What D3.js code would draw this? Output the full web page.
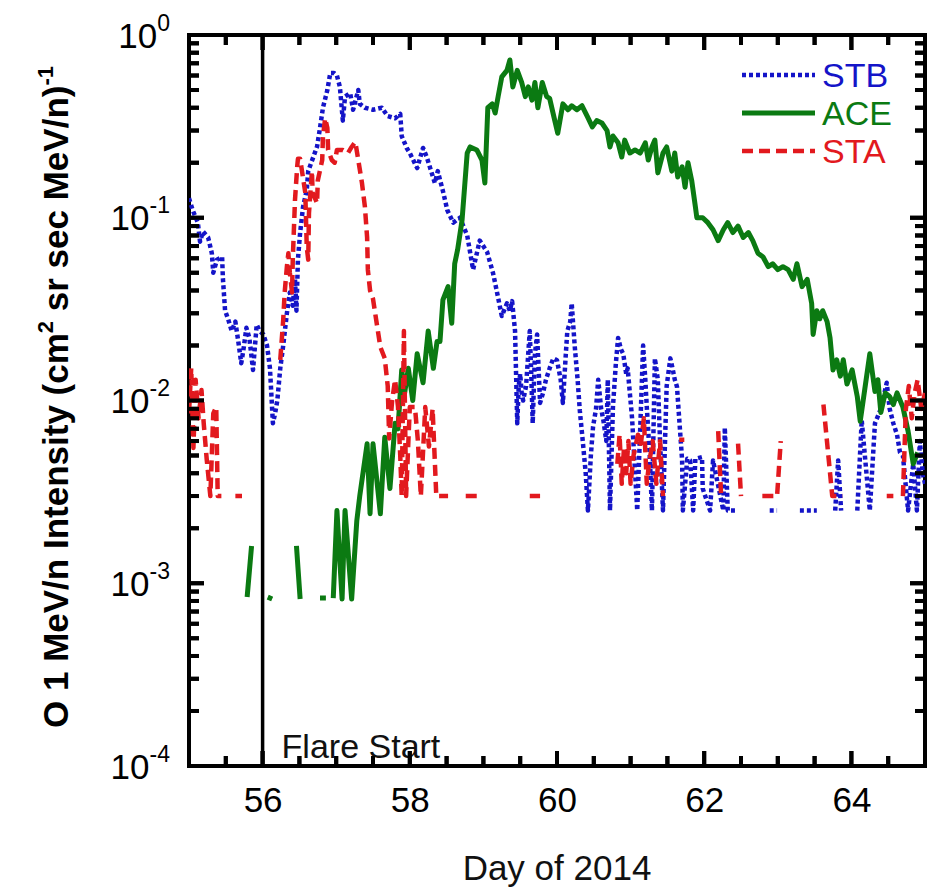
<!DOCTYPE html>
<html lang="en">
<head>
<meta charset="utf-8">
<title>O 1 MeV/n Intensity, Day 55-65 of 2014</title>
<script src="https://d3js.org/d3.v7.min.js"></script>
<style>
  html, body { margin: 0; padding: 0; overflow: hidden; background: #fff; font-family: 'Liberation Sans', Arial, sans-serif; }
  svg { display: block; }
</style>
</head>
<body>
<div id="chart"></div>
<script>
// [day of 2014, intensity]; null = no data (gap)
var stbData = [[55.00,0.128],[55.05,0.110],[55.12,0.094],[55.15,0.074],[55.19,0.084],[55.26,0.078],[55.31,0.064],[55.33,0.050],[55.38,0.059],[55.45,0.061],[55.46,0.047],[55.49,0.031],[55.53,0.028],[55.58,0.024],[55.63,0.027],[55.67,0.021],[55.71,0.016],[55.74,0.019],[55.78,0.025],[55.82,0.022],[55.87,0.0147],[55.92,0.026],[55.96,0.024],[56.01,0.023],[56.06,0.020],[56.10,0.015],[56.14,0.0075],[56.17,0.0085],[56.20,0.010],[56.24,0.015],[56.28,0.020],[56.33,0.030],[56.37,0.039],[56.41,0.033],[56.44,0.046],[56.46,0.031],[56.48,0.059],[56.51,0.083],[56.55,0.115],[56.60,0.142],[56.62,0.18],[56.68,0.21],[56.74,0.245],[56.78,0.31],[56.82,0.40],[56.88,0.50],[56.92,0.62],[56.97,0.62],[57.01,0.60],[57.05,0.52],[57.09,0.34],[57.12,0.46],[57.19,0.48],[57.23,0.39],[57.30,0.50],[57.32,0.42],[57.39,0.40],[57.50,0.39],[57.62,0.40],[57.70,0.36],[57.80,0.35],[57.87,0.37],[57.89,0.28],[57.96,0.24],[58.00,0.226],[58.10,0.187],[58.18,0.241],[58.23,0.215],[58.34,0.155],[58.38,0.18],[58.45,0.14],[58.51,0.11],[58.59,0.094],[58.68,0.10],[58.78,0.08],[58.86,0.052],[58.95,0.075],[59.05,0.065],[59.13,0.05],[59.18,0.040],[59.25,0.029],
  [59.32,0.034],[59.36,0.031],[59.39,0.035],[59.43,0.024],[59.46,0.0075],[59.48,0.012],[59.50,0.014],[59.52,0.011],[59.54,0.010],[59.58,0.012],[59.63,0.024],[59.65,0.014],[59.67,0.0075],[59.70,0.018],[59.73,0.023],[59.77,0.0097],[59.81,0.011],[59.85,0.013],[59.90,0.015],[59.95,0.017],[60.00,0.0166],[60.05,0.013],[60.08,0.0097],[60.12,0.018],[60.14,0.024],[60.18,0.027],[60.20,0.034],[60.22,0.026],[60.24,0.020],[60.28,0.013],[60.31,0.0088],[60.35,0.006],[60.39,0.004],[60.42,0.0025],[60.46,0.005],[60.49,0.0072],[60.53,0.009],[60.56,0.013],[60.60,0.009],[60.63,0.0078],[60.67,0.006],[60.69,0.013],[60.72,0.0025],[60.76,0.0092],[60.80,0.016],[60.83,0.022],[60.87,0.019],[60.90,0.018],[60.94,0.014],[60.96,0.015],[61.02,0.008],[61.09,0.0025],[61.13,0.0069],[61.17,0.020],[61.20,0.013],[61.22,0.0092],[61.26,0.005],[61.29,0.0025],[61.33,0.017],[61.37,0.013],[61.40,0.006],[61.44,0.0025],[61.49,0.012],[61.54,0.017],[61.57,0.015],[61.60,0.013],[61.63,0.0119],[61.70,0.0047],[61.71,0.0025],[61.77,0.0048],[61.81,0.0047],[61.85,0.0025],[61.88,0.0048],[61.97,0.0049],[61.98,0.0033],[62.08,0.0025],[62.12,0.0047],[62.26,0.0025],[62.28,0.0071],[62.32,0.0025],[62.45,0.0025],[62.60,null],
  [62.89,0.0025],[62.99,0.0025],[63.10,null],[63.30,0.0025],[63.53,0.0025],[63.65,null],[63.78,0.0025],[63.82,0.0047],[63.86,0.0025],[63.95,null],[64.08,0.0025],[64.14,0.0078],[64.25,0.0025],[64.32,0.0075],[64.40,0.009],[64.48,0.0125],[64.52,0.009],[64.57,0.0075],[64.62,0.0065],[64.66,0.0052],[64.70,0.005],[64.77,0.0025],[64.84,0.0045],[64.89,0.0025],[64.93,0.006],[64.97,0.004],[65.00,0.0035]];

var aceData = [[55.79,0.00084],[55.85,0.0016],[55.86,null],[56.07,0.00084],[56.13,0.00082],[56.14,null],[56.46,0.0016],[56.51,0.00082],[56.52,null],[56.78,0.00083],[56.86,0.00083],[56.90,null],
  [56.96,0.00083],[57.01,0.0025],[57.08,0.00082],[57.12,0.0025],[57.21,0.00082],[57.28,0.0022],[57.32,0.0030],[57.42,0.0058],[57.46,0.0024],[57.50,0.0058],[57.60,0.0024],[57.66,0.0063],[57.73,0.0033],[57.80,0.0075],[57.84,0.007],[57.89,0.0147],[57.93,0.011],[57.98,0.015],[58.04,0.010],[58.10,0.018],[58.18,0.0125],[58.25,0.024],[58.32,0.015],[58.37,0.021],[58.41,0.021],[58.45,0.0355],[58.52,0.042],[58.57,0.0265],[58.61,0.056],[58.65,0.067],[58.71,0.097],[58.78,0.226],[58.82,0.244],[58.91,0.235],[58.98,0.207],[59.02,0.155],[59.06,0.40],[59.12,0.42],[59.16,0.374],[59.20,0.46],[59.25,0.59],[59.32,0.64],[59.36,0.73],[59.40,0.52],[59.46,0.64],[59.52,0.55],[59.57,0.46],[59.61,0.52],[59.66,0.44],[59.70,0.55],[59.74,0.40],[59.80,0.55],[59.86,0.46],[59.90,0.45],[59.97,0.34],[60.01,0.29],[60.08,0.42],[60.15,0.39],[60.20,0.41],[60.27,0.39],[60.34,0.41],[60.41,0.36],[60.48,0.314],[60.54,0.34],[60.61,0.33],[60.68,0.30],[60.72,0.244],[60.76,0.28],[60.83,0.257],[60.88,0.215],[60.92,0.266],[60.99,0.226],[61.06,0.235],[61.13,0.226],[61.20,0.257],[61.24,0.207],[61.29,0.244],[61.33,0.266],[61.37,0.176],[61.44,0.226],[61.49,0.244],[61.56,0.18],[61.60,0.226],[61.64,0.167],[61.70,0.19],[61.74,0.147],[61.78,0.20],[61.83,0.16],[61.88,0.115],[61.90,0.10],[61.98,0.10],[62.05,0.094],[62.12,0.086],[62.19,0.075],[62.26,0.086],[62.32,0.094],[62.39,0.083],[62.46,0.09],[62.53,0.078],[62.60,0.083],[62.66,0.075],[62.73,0.064],[62.80,0.061],[62.87,0.054],[62.93,0.056],[63.00,0.052],[63.07,0.054],[63.14,0.052],[63.21,0.046],[63.26,0.056],[63.33,0.042],[63.40,0.046],[63.46,0.034],[63.48,0.023],[63.53,0.031],[63.57,0.028],[63.61,0.031],[63.67,0.027],[63.71,0.022],[63.75,0.0147],[63.80,0.0167],[63.85,0.0136],[63.89,0.0167],[63.94,0.0123],[64.01,0.0147],[64.08,0.0105],[64.12,0.0077],[64.18,0.0114],[64.25,0.018],[64.32,0.0112],[64.36,0.013],[64.40,0.0086],[64.46,0.011],[64.52,0.0105],[64.57,0.0095],[64.62,0.011],[64.70,0.0092],[64.77,0.0068],[64.84,0.0045],[64.90,0.0052]];

var staData = [[55.00,0.0085],[55.03,0.015],[55.06,0.0055],[55.09,0.013],[55.13,0.008],[55.17,0.0114],[55.20,0.0075],[55.24,0.0048],[55.29,0.003],[55.33,0.0085],[55.37,0.0092],[55.39,0.003],[55.44,0.003],[55.50,null],[55.63,0.003],[55.72,0.003],[55.80,null],
  [56.24,0.0167],[56.28,0.0276],[56.30,0.039],[56.33,0.054],[56.35,0.064],[56.37,0.050],[56.40,0.039],[56.41,0.059],[56.44,0.125],[56.47,0.19],[56.48,0.21],[56.51,0.21],[56.58,0.137],[56.60,0.069],[56.62,0.059],[56.63,0.106],[56.67,0.18],[56.68,0.137],[56.74,0.12],[56.75,0.16],[56.81,0.207],[56.82,0.277],[56.85,0.35],[56.88,0.31],[56.89,0.235],[56.94,0.207],[56.98,0.20],[57.01,0.235],[57.09,0.235],[57.16,0.226],[57.21,0.244],[57.26,0.26],[57.30,0.207],[57.35,0.155],[57.39,0.115],[57.42,0.078],[57.43,0.052],[57.46,0.040],[57.50,0.036],[57.55,0.0265],[57.60,0.0196],[57.66,0.017],[57.70,0.012],[57.72,0.0062],[57.76,0.010],[57.80,0.013],[57.84,0.0092],[57.87,0.005],[57.89,0.003],[57.92,0.024],[57.95,0.003],[58.00,0.0092],[58.07,0.0092],[58.11,0.006],[58.15,0.003],[58.21,0.0092],[58.26,0.0056],[58.31,0.009],[58.36,0.003],[58.52,0.003],[58.60,null],[58.76,0.003],[58.91,0.003],[59.00,null],[59.63,0.003],[59.77,0.003],[59.80,null],
  [60.82,0.0045],[60.85,0.0065],[60.88,0.0035],[60.91,0.0055],[60.94,0.004],[60.97,0.006],[61.00,0.0035],[61.04,0.005],[61.10,0.0065],[61.14,0.0058],[61.18,0.008],[61.22,0.0035],[61.25,0.0045],[61.30,0.006],[61.35,0.0035],[61.40,0.006],[61.44,0.003],[61.50,null],[61.66,0.0061],[61.73,0.0061],[61.80,null],[62.19,0.0068],[62.23,0.003],[62.30,null],[62.46,0.0058],[62.50,0.003],[62.55,null],[62.79,0.003],[62.99,0.003],[63.04,0.006],[63.10,null],[63.62,0.0095],[63.74,0.003],[63.88,0.003],[63.95,null],[64.48,0.003],[64.57,0.003],[64.62,null],[64.70,0.003],[64.74,0.009],[64.78,0.012],[64.82,0.008],[64.86,0.011],[64.90,0.013],[64.95,0.009],[65.00,0.011]];

var seriesNames = ["STB", "ACE", "STA"];
var xMajor = [56, 58, 60, 62, 64];
var yDecades = [1e-4, 1e-3, 1e-2, 1e-1, 1];
var yExponents = ["-4", "-3", "-2", "-1", "0"];
var flareDay = 56;

var width = 930, height = 893;
var margin = {top: 35, right: 5, bottom: 127, left: 189};
var plotW = width - margin.left - margin.right;
var plotH = height - margin.top - margin.bottom;

var colors = {STB: "#1414c8", ACE: "#0b7a12", STA: "#e2191e"};
var dashes = {STB: "4,3", ACE: null, STA: "11,6"};
var widths = {STB: 4.5, ACE: 5, STA: 4.5};
var seriesData = {STB: stbData, ACE: aceData, STA: staData};

var svg = d3.select("#chart").append("svg")
    .attr("width", width)
    .attr("height", height);

var g = svg.append("g")
    .attr("transform", "translate(" + margin.left + "," + margin.top + ")");

var x = d3.scaleLinear().domain([55, 65]).range([0, plotW]);
var y = d3.scaleLog().domain([1e-4, 1]).range([plotH, 0]);

// minor ticks: half days and 2..9 within each decade
var xMinor = d3.range(55.5, 65, 0.5).filter(function(d) { return xMajor.indexOf(d) < 0; });
var yMinor = [];
yDecades.slice(0, 4).forEach(function(dec) {
    for (var k = 2; k <= 9; k++) yMinor.push(dec * k);
});

// frame first, ticks right after it
g.append("rect")
    .attr("width", plotW).attr("height", plotH)
    .attr("fill", "none").attr("stroke", "#000").attr("stroke-width", 4);

var tickPath = [];
xMajor.forEach(function(d) { tickPath.push("M" + x(d) + "," + plotH + "V" + (plotH - 15) + "M" + x(d) + ",0V15"); });
xMinor.forEach(function(d) { tickPath.push("M" + x(d) + "," + plotH + "V" + (plotH - 10) + "M" + x(d) + ",0V10"); });
yDecades.forEach(function(d) { tickPath.push("M0," + y(d) + "H15M" + plotW + "," + y(d) + "H" + (plotW - 15)); });
yMinor.forEach(function(d) { tickPath.push("M0," + y(d) + "H10M" + plotW + "," + y(d) + "H" + (plotW - 10)); });
g.append("path").attr("d", tickPath.join(""))
  .attr("fill", "none").attr("stroke", "#000").attr("stroke-width", 4);

// labelled axes
var xb = g.append("g").attr("transform", "translate(0," + plotH + ")")
    .call(d3.axisBottom(x).tickValues(xMajor).tickSize(0).tickPadding(21).tickFormat(d3.format("d")));
xb.select(".domain").remove();
xb.selectAll("text").attr("font-size", 35).attr("fill", "#000")
  .attr("font-family", "'Liberation Sans', Arial, sans-serif");

var yl = g.append("g").call(d3.axisLeft(y).tickValues(yDecades).tickSize(0).tickFormat(""));
yl.select(".domain").remove();
yl.selectAll(".tick").each(function(d) {
    var t = d3.select(this).append("text")
        .attr("x", -19).attr("y", 12)
        .attr("text-anchor", "end")
        .attr("fill", "#000")
        .attr("font-size", 35);
    t.append("tspan").text("10");
    t.append("tspan").attr("dy", -17).attr("font-size", 23).text(yExponents[yDecades.indexOf(d)]);
});

// data lines (kept inside the frame)
svg.append("defs").append("clipPath").attr("id", "plotclip")
  .append("rect").attr("width", plotW).attr("height", plotH);

var line = d3.line()
    .defined(function(d) { return d[1] != null; })
    .x(function(d) { return x(d[0]); })
    .y(function(d) { return y(d[1]); });

var lines = g.append("g").attr("clip-path", "url(#plotclip)");
seriesNames.forEach(function(name) {
    lines.append("path")
        .datum(seriesData[name])
        .attr("fill", "none")
        .attr("stroke", colors[name])
        .attr("stroke-width", widths[name])
        .attr("stroke-dasharray", dashes[name])
        .attr("stroke-linejoin", "round")
        .attr("d", line);
});

// flare start marker
g.append("line")
    .attr("x1", x(flareDay)).attr("x2", x(flareDay))
    .attr("y1", 0).attr("y2", plotH)
    .attr("stroke", "#000").attr("stroke-width", 3.5);
g.append("text")
    .attr("x", x(flareDay) + 19).attr("y", plotH - 8)
    .attr("font-size", 34).attr("fill", "#111")
    .text("Flare Start");

// legend, top right inside the frame
var legend = g.append("g").attr("transform", "translate(553,0)");
seriesNames.forEach(function(name, i) {
    var ly = 40 + i * 38;
    legend.append("line")
        .attr("x1", 0).attr("x2", 73)
        .attr("y1", ly).attr("y2", ly)
        .attr("stroke", colors[name])
        .attr("stroke-width", widths[name])
        .attr("stroke-dasharray", dashes[name]);
    legend.append("text")
        .attr("x", 80).attr("y", ly + 12)
        .attr("font-size", 34).attr("fill", colors[name])
        .text(name);
});

// axis titles
svg.append("text")
    .attr("x", margin.left + plotW / 2).attr("y", 880)
    .attr("text-anchor", "middle")
    .attr("font-size", 35).attr("fill", "#111")
    .text("Day of 2014");

var yt = svg.append("text")
    .attr("transform", "translate(68,397) rotate(-90)")
    .attr("text-anchor", "middle")
    .attr("font-size", 35).attr("font-weight", "bold").attr("fill", "#000");
yt.append("tspan").text("O 1 MeV/n Intensity (cm");
yt.append("tspan").attr("dy", -15).attr("font-size", 22).text("2");
yt.append("tspan").attr("dy", 15).text(" sr sec MeV/n)");
yt.append("tspan").attr("dy", -15).attr("font-size", 22).text("-1");

// tick bars again on top, in case the stroked ticks are hidden
var tickLayer = svg.append("g")
    .attr("transform", "translate(" + margin.left + "," + margin.top + ")")
    .attr("fill", "#000");
[[xMajor, 15], [xMinor, 10]].forEach(function(p) {
    p[0].forEach(function(d) {
        tickLayer.append("rect").attr("x", x(d) - 2).attr("y", plotH - p[1]).attr("width", 4).attr("height", p[1]);
        tickLayer.append("rect").attr("x", x(d) - 2).attr("y", 0).attr("width", 4).attr("height", p[1]);
    });
});
[[yDecades, 15], [yMinor, 10]].forEach(function(p) {
    p[0].forEach(function(d) {
        tickLayer.append("rect").attr("x", 0).attr("y", y(d) - 2).attr("width", p[1]).attr("height", 4);
        tickLayer.append("rect").attr("x", plotW - p[1]).attr("y", y(d) - 2).attr("width", p[1]).attr("height", 4);
    });
});
</script>
</body>
</html>
